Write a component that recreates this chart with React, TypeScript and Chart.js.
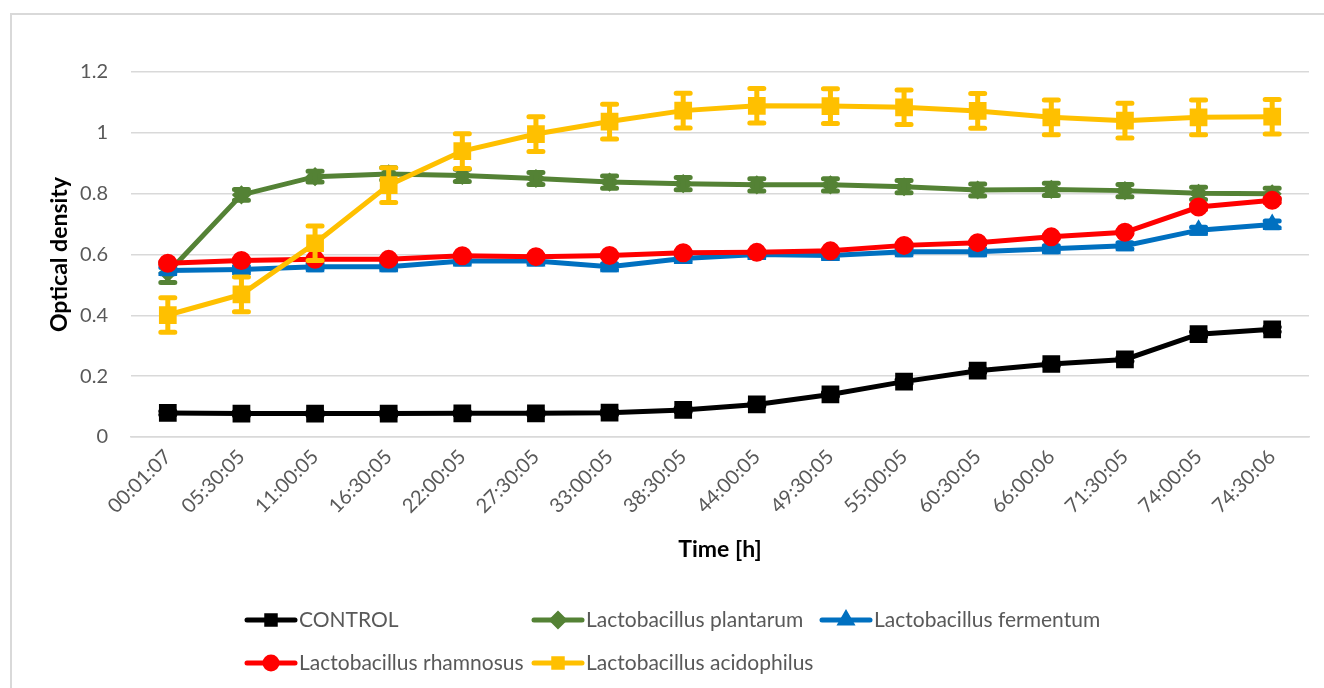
import React, { useEffect, useRef } from 'react';
import { Chart, registerables } from 'chart.js';
import { drawPoint } from 'chart.js/helpers';

Chart.register(...registerables);

const timeLabels = [
  '00:01:07', '05:30:05', '11:00:05', '16:30:05', '22:00:05', '27:30:05', '33:00:05', '38:30:05',
  '44:00:05', '49:30:05', '55:00:05', '60:30:05', '66:00:06', '71:30:05', '74:00:05', '74:30:06',
];

const controlValues = [0.079, 0.077, 0.077, 0.077, 0.078, 0.078, 0.080, 0.089, 0.107, 0.140, 0.182, 0.218, 0.240, 0.255, 0.338, 0.354];
const controlErrors = [0.006, 0.006, 0.006, 0.006, 0.006, 0.006, 0.006, 0.006, 0.006, 0.006, 0.006, 0.006, 0.006, 0.006, 0.008, 0.008];

const plantarumValues = [0.540, 0.796, 0.856, 0.865, 0.860, 0.850, 0.838, 0.833, 0.829, 0.829, 0.823, 0.812, 0.814, 0.810, 0.801, 0.800];
const plantarumErrors = [0.032, 0.018, 0.018, 0.020, 0.020, 0.020, 0.020, 0.020, 0.020, 0.020, 0.020, 0.020, 0.020, 0.020, 0.020, 0.018];

const fermentumValues = [0.547, 0.551, 0.560, 0.560, 0.579, 0.579, 0.560, 0.587, 0.600, 0.597, 0.609, 0.609, 0.619, 0.629, 0.680, 0.699];
const fermentumErrors = [0.010, 0.010, 0.010, 0.010, 0.010, 0.010, 0.010, 0.010, 0.010, 0.010, 0.010, 0.010, 0.010, 0.010, 0.010, 0.011];

const rhamnosusValues = [0.571, 0.580, 0.584, 0.584, 0.596, 0.593, 0.597, 0.606, 0.607, 0.612, 0.630, 0.639, 0.658, 0.673, 0.756, 0.778];
const rhamnosusErrors = [0.005, 0.005, 0.005, 0.005, 0.005, 0.005, 0.005, 0.005, 0.005, 0.005, 0.005, 0.005, 0.005, 0.005, 0.008, 0.008];

const acidophilusValues = [0.401, 0.469, 0.637, 0.828, 0.940, 0.996, 1.037, 1.073, 1.089, 1.088, 1.084, 1.072, 1.051, 1.040, 1.051, 1.053];
const acidophilusErrors = [0.057, 0.057, 0.057, 0.057, 0.057, 0.057, 0.057, 0.057, 0.057, 0.057, 0.057, 0.057, 0.057, 0.057, 0.057, 0.057];

const seriesNames = [
  'CONTROL',
  'Lactobacillus plantarum',
  'Lactobacillus fermentum',
  'Lactobacillus rhamnosus',
  'Lactobacillus acidophilus',
];
const seriesColors = ['#000000', '#548235', '#0070C0', '#FF0000', '#FFC000'];
const seriesMarkers = ['rect', 'rectRot', 'triangle', 'circle', 'rect'];
const seriesValues = [controlValues, plantarumValues, fermentumValues, rhamnosusValues, acidophilusValues];
const seriesErrors = [controlErrors, plantarumErrors, fermentumErrors, rhamnosusErrors, acidophilusErrors];

const yTitle = 'Optical density';
const xTitle = 'Time [h]';

const FONT = 'Lato, "Liberation Sans", sans-serif';
const TEXT_GRAY = '#595959';

const markerRadius: Record<string, number> = { rect: 9, rectRot: 6, triangle: 6, circle: 7 };

const errorBarPlugin = {
  id: 'errorBars',
  afterDatasetDraw(chart: any, args: any) {
    const ds: any = chart.data.datasets[args.index];
    const errs: number[] | undefined = ds.errors;
    if (!errs) return;
    const yScale = chart.scales.y;
    const ctx = chart.ctx;
    ctx.save();
    ctx.strokeStyle = ds.borderColor;
    ctx.lineWidth = 5;
    ctx.lineCap = 'round';
    args.meta.data.forEach((pt: any, i: number) => {
      const v = ds.data[i];
      const e = errs[i];
      const top = yScale.getPixelForValue(v + e);
      const bot = yScale.getPixelForValue(v - e);
      const cap = 7;
      ctx.beginPath();
      ctx.moveTo(pt.x, top);
      ctx.lineTo(pt.x, bot);
      ctx.moveTo(pt.x - cap, top);
      ctx.lineTo(pt.x + cap, top);
      ctx.moveTo(pt.x - cap, bot);
      ctx.lineTo(pt.x + cap, bot);
      ctx.stroke();
    });
    ctx.restore();
  },
};

const legendColumns = [245, 532, 820];
const legendRows = [620, 663];

const customLegendPlugin = {
  id: 'customLegend',
  afterDraw(chart: any) {
    const ctx = chart.ctx;
    ctx.save();
    chart.data.datasets.forEach((ds: any, i: number) => {
      const x = legendColumns[i % 3];
      const y = legendRows[Math.floor(i / 3)];
      ctx.strokeStyle = ds.borderColor;
      ctx.fillStyle = ds.borderColor;
      ctx.lineWidth = 5;
      ctx.lineCap = 'round';
      ctx.beginPath();
      ctx.moveTo(x + 2, y);
      ctx.lineTo(x + 50, y);
      ctx.stroke();
      drawPoint(ctx, { pointStyle: ds.pointStyle, radius: 6, rotation: 0, borderWidth: 1 }, x + 26, y);
      ctx.fillStyle = TEXT_GRAY;
      ctx.font = `21px ${FONT}`;
      ctx.textBaseline = 'middle';
      ctx.textAlign = 'left';
      ctx.fillText(ds.label, x + 54, y);
    });
    ctx.restore();
  },
};

export default function App() {
  const canvasRef = useRef<HTMLCanvasElement | null>(null);

  useEffect(() => {
    if (!canvasRef.current) return;
    const datasets = seriesNames.map((name, i) => ({
      label: name,
      data: seriesValues[i],
      errors: seriesErrors[i],
      borderColor: seriesColors[i],
      backgroundColor: seriesColors[i],
      pointBackgroundColor: seriesColors[i],
      pointBorderColor: seriesColors[i],
      pointStyle: seriesMarkers[i],
      pointRadius: markerRadius[seriesMarkers[i]],
      borderWidth: 5,
      tension: 0,
      order: seriesNames.length - i,
    }));

    const chart = new Chart(canvasRef.current, {
      type: 'line',
      data: { labels: timeLabels, datasets: datasets as any },
      plugins: [errorBarPlugin, customLegendPlugin],
      options: {
        animation: false,
        responsive: false,
        maintainAspectRatio: false,
        layout: { padding: { top: 72, right: 15, bottom: 111, left: 0 } },
        plugins: {
          legend: { display: false },
          tooltip: { enabled: false },
        },
        scales: {
          x: {
            offset: true,
            grid: { display: false, drawTicks: false },
            border: { display: true, color: '#D9D9D9', width: 1.5 },
            ticks: {
              color: TEXT_GRAY,
              font: { family: FONT, size: 20 },
              minRotation: 45,
              maxRotation: 45,
              padding: 8,
              autoSkip: false,
            },
            title: {
              display: true,
              text: xTitle,
              color: '#000000',
              font: { family: FONT, size: 23, weight: 'bold' },
              padding: { top: 0, bottom: 14 },
            },
            afterFit: (scale: any) => {
              scale.height = 140;
            },
          },
          y: {
            min: 0,
            max: 1.2,
            grid: { color: '#D9D9D9', lineWidth: 1.5, drawTicks: false },
            border: { display: false },
            ticks: {
              stepSize: 0.2,
              color: TEXT_GRAY,
              font: { family: FONT, size: 20 },
              padding: 23,
              callback: (v: any) => String(Math.round(Number(v) * 10) / 10),
            },
            title: {
              display: true,
              text: yTitle,
              color: '#000000',
              font: { family: FONT, size: 23, weight: 'bold' },
              padding: { top: 46, bottom: 0 },
            },
            afterFit: (scale: any) => {
              scale.width = 131;
            },
          },
        },
      } as any,
    });
    return () => chart.destroy();
  }, []);

  return (
    <div style={{ position: 'fixed', left: 0, top: 0, width: 1324, height: 688, overflow: 'hidden', background: '#ffffff' }}>
      <div
        style={{
          position: 'absolute',
          left: 10,
          top: 13,
          width: 1330,
          height: 690,
          border: '2px solid #D9D9D9',
          boxSizing: 'border-box',
        }}
      />
      <canvas
        ref={canvasRef}
        width={1324}
        height={688}
        style={{ position: 'absolute', left: 0, top: 0, display: 'block' }}
      />
    </div>
  );
}
